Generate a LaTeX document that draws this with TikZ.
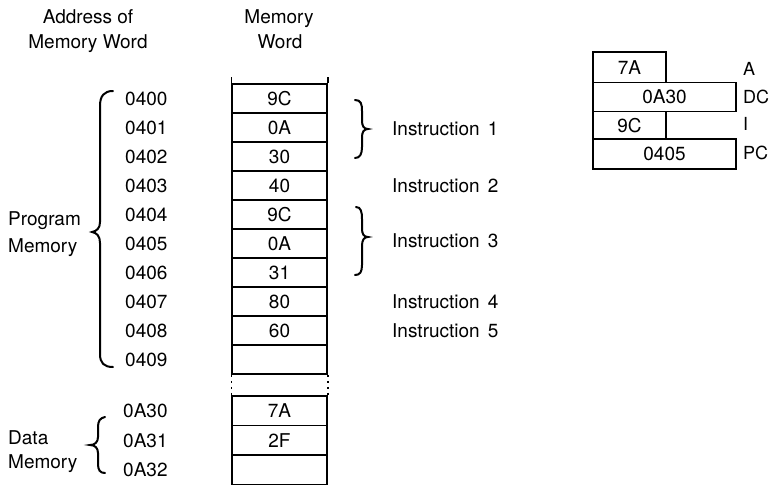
\documentclass[tikz,border=0pt]{standalone}
\usepackage{fontspec}
\setmainfont{TeX Gyre Heros}
\begin{document}
\begin{tikzpicture}[x=1pt,y=-1pt,
  lbl/.style={font=\fontsize{19}{21}\selectfont, inner sep=0pt, text height=13.6pt, text depth=0pt},
  rlbl/.style={lbl, font=\fontsize{18}{20}\selectfont, text height=12.9pt, anchor=west},
  cell/.style={lbl, draw, line width=1.5pt, minimum width=95pt, minimum height=29pt},
  dcell/.style={cell, minimum height=29.5pt},
  reg/.style={lbl, draw, line width=1.5pt},
  brc/.style={line width=2pt, line cap=round},
  edge/.style={line width=1.5pt}
]
\useasboundingbox (0,0) rectangle (771,488);

% headers
\node[lbl] (h1a) at (88,17) {Address of};
\node[lbl] (h1b) at (88,42) {Memory Word};
\node[lbl] (h2a) at (279,17) {Memory};
\node[lbl] (h2b) at (280,42) {Word};

% program memory cells
\foreach \i/\v/\a in {0/9C/0400,1/0A/0401,2/30/0402,3/40/0403,4/9C/0404,5/0A/0405,6/31/0406,7/80/0407,8/60/0408,9/{}/0409}{
  \node[cell] (c\i) at (279.5,{98.5+29*\i}) {\v};
  \node[lbl,anchor=west] (a\i) at (125,{98.5+29*\i}) {\a};
}
% data memory cells
\foreach \i/\v/\a in {0/7A/0A30,1/2F/0A31,2/{}/0A32}{
  \node[dcell] (d\i) at (279.5,{410.75+29.5*\i}) {\v};
  \node[lbl,anchor=west] (b\i) at (123,{410.75+29.5*\i}) {\a};
}
% open top and dotted break
\coordinate (tl) at ([yshift=6pt]c0.north west);
\coordinate (tr) at ([yshift=6pt]c0.north east);
\draw[edge] (c0.north west) -- (tl);
\draw[edge] (c0.north east) -- (tr);
\draw[edge, dash pattern=on 2.5pt off 3.5pt] (c9.south west) -- (d0.north west);
\draw[edge, dash pattern=on 2.5pt off 3.5pt] (c9.south east) -- (d0.north east);

% instruction labels
\node[lbl,anchor=west] (i1) at (392,129) {Instruction\hspace{8pt}1};
\node[lbl,anchor=west] (i2) at (392,185.5) {Instruction\hspace{8pt}2};
\node[lbl,anchor=west] (i3) at (392,241) {Instruction\hspace{8pt}3};
\node[lbl,anchor=west] (i4) at (392,301.5) {Instruction\hspace{8pt}4};
\node[lbl,anchor=west] (i5) at (392,330.5) {Instruction\hspace{8pt}5};

% instruction braces
\draw[brc] (355,100) .. controls (361,100) and (362,104) .. (362,111) -- (362,121)
  .. controls (362,126) and (364,129) .. (368,129)
  .. controls (364,129) and (362,132) .. (362,137) -- (362,147)
  .. controls (362,154) and (360,158) .. (355,158);
\draw[brc] (356,207) .. controls (361,207) and (362,212) .. (362,219) -- (362,229)
  .. controls (362,234) and (364,237) .. (368,237)
  .. controls (364,237) and (362,240) .. (362,246) -- (362,265)
  .. controls (362,272) and (360,275) .. (355,275);

% program memory brace
\draw[brc] (113,91) .. controls (104,91) and (100,96) .. (100,106) -- (100,222)
  .. controls (100,228) and (97,231) .. (92,232)
  .. controls (97,233) and (100,236) .. (100,243) -- (100,354)
  .. controls (100,363) and (104,367) .. (113,367);
\node[lbl,anchor=west] (pm1) at (8,219) {Program};
\node[lbl,anchor=west] (pm2) at (8,246) {Memory};

% data memory brace
\draw[brc] (105,417) .. controls (100,418) and (98,421) .. (98,427) -- (98,437)
  .. controls (98,442) and (95,445) .. (90,445)
  .. controls (95,445) and (98,448) .. (98,453) -- (98,464)
  .. controls (98,470) and (100,473) .. (105,473);
\node[lbl,anchor=west] (dm1) at (8,438) {Data};
\node[lbl,anchor=west] (dm2) at (8,462) {Memory};

% registers
\node[reg, minimum width=73pt, minimum height=30.5pt] (ra) at (629.5,67.25) {7A};
\node[reg, minimum width=143pt, minimum height=29pt] (rdc) at (664.5,97) {0A30};
\node[reg, minimum width=73pt, minimum height=27.5pt] (ri) at (629.5,125.25) {9C};
\node[reg, minimum width=143pt, minimum height=30pt] (rpc) at (664.5,154) {0405};
\node[rlbl] (la) at (743,69) {A};
\node[rlbl] (ldc) at (743,97) {DC};
\node[rlbl] (li) at (743,124) {I};
\node[rlbl] (lpc) at (743,153) {PC};
\end{tikzpicture}
\end{document}
